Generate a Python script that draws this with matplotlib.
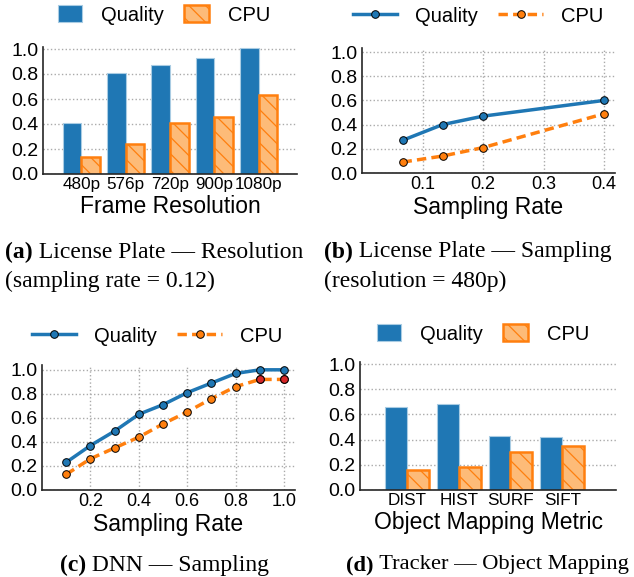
import numpy as np
import matplotlib
matplotlib.use("Agg")
import matplotlib.pyplot as plt
from matplotlib.patches import Patch
from matplotlib.lines import Line2D

plt.rcParams["font.family"] = ["Liberation Sans", "DejaVu Sans"]
plt.rcParams["hatch.linewidth"] = 0.9

# (a) license plate, resolution
res_labels = ["480p", "576p", "720p", "900p", "1080p"]
res_quality = [0.41, 0.81, 0.87, 0.93, 1.01]
res_cpu = [0.14, 0.24, 0.41, 0.46, 0.63]

# (b) license plate, sampling rate
lp_rate = [0.067, 0.133, 0.2, 0.4]
lp_quality = [0.27, 0.40, 0.47, 0.60]
lp_cpu = [0.09, 0.14, 0.21, 0.49]

# (c) DNN, sampling rate
dnn_rate = [0.1, 0.2, 0.3, 0.4, 0.5, 0.6, 0.7, 0.8, 0.9, 1.0]
dnn_quality = [0.23, 0.37, 0.49, 0.63, 0.71, 0.81, 0.89, 0.97, 1.0, 1.0]
dnn_cpu = [0.13, 0.26, 0.35, 0.44, 0.55, 0.65, 0.76, 0.86, 0.92, 0.92]
dnn_red = [8, 9]  # highlighted cpu points

# (d) tracker, object mapping metric
metric_labels = ["DIST", "HIST", "SURF", "SIFT"]
metric_quality = [0.66, 0.68, 0.43, 0.42]
metric_cpu = [0.16, 0.18, 0.30, 0.35]

BLUE = "#1f77b4"
ORANGE = "#ff7f0e"
LIGHT_OR = "#fdbb78"
RED = "#d62728"

W, H = 634, 577
fig = plt.figure(figsize=(W / 100, H / 100), dpi=100)


def px_axes(left, right, bottom, top):
    return fig.add_axes([left / W, (H - bottom) / H, (right - left) / W, (bottom - top) / H])


def style(ax, xgrid, xsize):
    for s in ["top", "right"]:
        ax.spines[s].set_visible(False)
    for s in ["left", "bottom"]:
        ax.spines[s].set_color("#262626")
        ax.spines[s].set_linewidth(1.2)
    ax.set_axisbelow(True)
    ax.yaxis.grid(True, ls=":", color="#aaaaaa", lw=1)
    if xgrid:
        ax.xaxis.grid(True, ls=":", color="#aaaaaa", lw=1)
    ax.set_yticks(np.arange(0, 1.01, 0.2))
    ax.set_yticklabels(["%.1f" % v for v in np.arange(0, 1.01, 0.2)])
    ax.tick_params(axis="y", length=0, labelsize=14, pad=3)
    ax.tick_params(axis="x", length=0, labelsize=xsize, pad=2)


def bar_legend(ax, cx, cy):
    handles = [Patch(facecolor=BLUE, edgecolor="#a9cce3", lw=0.8),
               Patch(facecolor=LIGHT_OR, edgecolor=ORANGE, hatch="\\\\", lw=1.8)]
    ax.legend(handles, ["Quality", "CPU"], loc="center", bbox_to_anchor=(cx / W, 1 - cy / H),
              bbox_transform=fig.transFigure, ncol=2, frameon=False, fontsize=14.5,
              handlelength=1.2, handleheight=0.85, handletextpad=0.95, columnspacing=1.0)


def line_legend(ax, cx, cy):
    handles = [Line2D([], [], color=BLUE, lw=2.5, marker="o", ms=5.5, mec="black", mew=0.7),
               Line2D([], [], color=ORANGE, lw=2.5, ls="--", dashes=(2.7, 1.5), marker="o",
                      ms=5.5, mec="black", mew=0.7)]
    ax.legend(handles, ["Quality", "CPU"], loc="center", bbox_to_anchor=(cx / W, 1 - cy / H),
              bbox_transform=fig.transFigure, ncol=2, frameon=False, fontsize=14.5,
              handlelength=2.2, handletextpad=0.9, columnspacing=1.0, numpoints=1)


def bars(ax, labels, quality, cpu):
    x = np.arange(len(labels))
    ax.bar(x - 0.21, quality, 0.42, color=BLUE, edgecolor="#a9cce3", lw=0.8)
    ax.bar(x + 0.21, cpu, 0.42, facecolor=LIGHT_OR, edgecolor=ORANGE, hatch="\\\\", lw=1.8)
    ax.set_xticks(x)
    ax.set_xticklabels(labels)


def lines(ax, xs, quality, cpu):
    ax.plot(xs, quality, "-o", color=BLUE, lw=2.5, ms=5.5, mec="black", mew=0.7, clip_on=False)
    ax.plot(xs, cpu, "--o", color=ORANGE, lw=2.5, dashes=(2.7, 1.5), ms=5.5, mec="black",
            mew=0.7, clip_on=False)


# (a)
ax = px_axes(43, 297, 174, 46.5)
bars(ax, res_labels, res_quality, res_cpu)
ax.set_xlim(-0.86, 4.86)
ax.set_ylim(0, 1.02)
style(ax, False, 12.3)
ax.set_xlabel("Frame Resolution", fontsize=16.5, labelpad=2)
bar_legend(ax, 164, 15)

# (b)
ax = px_axes(362, 615, 173, 48.4)
lines(ax, lp_rate, lp_quality, lp_cpu)
ax.set_xlim(0.0, 0.418)
ax.set_ylim(0, 1.03)
ax.set_xticks([0.1, 0.2, 0.3, 0.4])
style(ax, True, 13)
ax.set_xlabel("Sampling Rate", fontsize=16.5, labelpad=2)
line_legend(ax, 478, 16)

# (c)
ax = px_axes(42, 295, 490, 365)
lines(ax, dnn_rate, dnn_quality, dnn_cpu)
ax.plot([dnn_rate[i] for i in dnn_red], [dnn_cpu[i] for i in dnn_red], "o", color=RED,
        ms=5.5, mec="black", mew=0.7, clip_on=False, zorder=5)
ax.set_xlim(0.0, 1.045)
ax.set_ylim(0, 1.04)
ax.set_xticks([0.2, 0.4, 0.6, 0.8, 1.0])
style(ax, True, 13)
ax.set_xlabel("Sampling Rate", fontsize=16.5, labelpad=2)
line_legend(ax, 157, 336)

# (d)
ax = px_axes(360, 616, 490, 361.5)
bars(ax, metric_labels, metric_quality, metric_cpu)
ax.set_xlim(-0.91, 4.04)
ax.set_ylim(0, 1.02)
style(ax, False, 12.3)
ax.set_xlabel("Object Mapping Metric", fontsize=16.5, labelpad=2)
bar_legend(ax, 483, 334)

# captions
serif = ["Liberation Serif", "DejaVu Serif"]
renderer = fig.canvas.get_renderer()


def caption(x, y, tag, rest, size=17):
    t = fig.text(x / W, 1 - y / H, tag, family=serif, fontsize=size, fontweight="bold", va="center")
    w = t.get_window_extent(renderer).width
    fig.text((x + w) / W, 1 - y / H, " " + rest, family=serif, fontsize=size, va="center")


caption(5, 252, "(a)", "License Plate \u2014 Resolution")
fig.text(5 / W, 1 - 281 / H, "(sampling rate = 0.12)", family=serif, fontsize=17, va="center")
caption(324, 252, "(b)", "License Plate \u2014 Sampling")
fig.text(324 / W, 1 - 281 / H, "(resolution = 480p)", family=serif, fontsize=17, va="center")
caption(60, 565, "(c)", "DNN \u2014 Sampling")
caption(346, 565, "(d)", "Tracker \u2014 Object Mapping", size=16.2)

fig.savefig("out.png", dpi=100)
